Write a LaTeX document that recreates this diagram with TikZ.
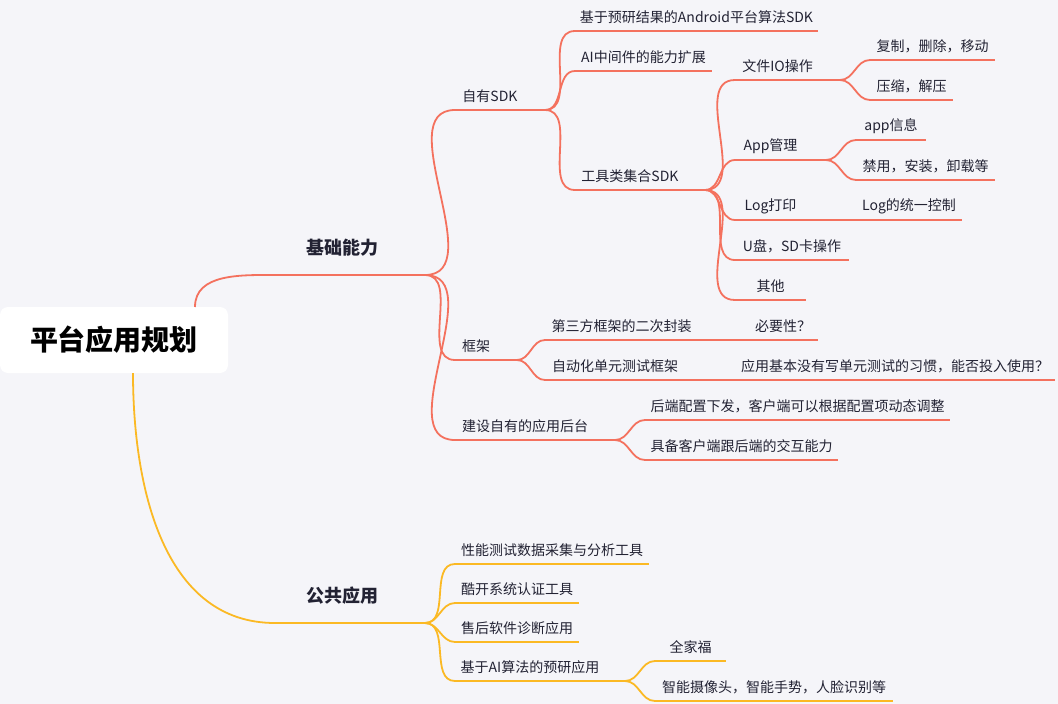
\documentclass[tikz,border=0pt]{standalone}
\usepackage{fontspec}
\setmainfont{Noto Sans CJK SC}
\definecolor{bg}{HTML}{F5F5F9}
\definecolor{rl}{HTML}{F4715E}
\definecolor{yl}{HTML}{FBB924}
\definecolor{tx}{HTML}{222233}
\newcommand\mmtopic[6]{%
  \coordinate (#1-s) at (#2,#4); \coordinate (#1-e) at (#3,#4);
  \node[lbl] (#1) at ({(#2+#3)/2},{#4-14}) {#5};
  \draw[#6,line width=1.8pt] (#1-s) -- (#1-e);}
\newcommand\mmlink[4]{%
  \draw[#3,line width=1.8pt] (#1-e) -- ++(#4,0) to[out=0,in=180] (#2-s);}
\begin{document}
\begin{tikzpicture}[x=1pt,y=-1pt,
  lbl/.style={font=\fontsize{14}{16}\selectfont,text=tx,inner sep=0pt}]
\fill[bg] (0,0) rectangle (1058,704);
\node[fill=white,rounded corners=8pt,minimum width=228pt,minimum height=66pt,inner sep=0pt,
  font=\fontsize{28}{32}\selectfont\bfseries,text=black] (root) at (114,340) {平台应用规划};
% main
\coordinate (A-s) at (275,275); \coordinate (A-e) at (425,275);
\node[lbl,font=\fontsize{18}{20}\selectfont\bfseries] (A) at (342,248) {基础能力};
\draw[rl,line width=1.8pt] (A-s)--(A-e);
\coordinate (B-s) at (275,623); \coordinate (B-e) at (425,623);
\node[lbl,font=\fontsize{18}{20}\selectfont\bfseries] (B) at (342,596) {公共应用};
\draw[yl,line width=1.8pt] (B-s)--(B-e);
\draw[rl,line width=1.8pt] (195,307) to[out=90,in=180] (A-s);
\draw[yl,line width=1.8pt] (133,373) to[out=-90,in=180] (B-s);
% level 2
\mmtopic{sdk}{455}{525}{110}{自有SDK}{rl}
\mmtopic{fw}{455}{497}{360}{框架}{rl}
\mmtopic{bk}{455}{595}{440}{建设自有的应用后台}{rl}
\foreach \c in {sdk,fw,bk} {\mmlink{A}{\c}{rl}{0}}
\mmtopic{sdk1}{575}{818}{31}{基于预研结果的Android平台算法SDK}{rl}
\mmtopic{sdk2}{575}{712}{71}{AI中间件的能力扩展}{rl}
\mmtopic{sdk3}{575}{685}{190}{工具类集合SDK}{rl}
\foreach \c in {sdk1,sdk2,sdk3} {\mmlink{sdk}{\c}{rl}{20}}
\mmtopic{t1}{735}{820}{80}{文件IO操作}{rl}
\mmtopic{t2}{735}{806}{160}{App管理}{rl}
\mmtopic{t3}{735}{806}{220}{Log打印}{rl}
\mmtopic{t4}{735}{849}{260}{U盘，SD卡操作}{rl}
\mmtopic{t5}{735}{806}{300}{其他}{rl}
\foreach \c in {t1,t2,t3,t4,t5} {\mmlink{sdk3}{\c}{rl}{20}}
\mmtopic{f1}{870}{995}{60}{复制，删除，移动}{rl}
\mmtopic{f2}{870}{953}{100}{压缩，解压}{rl}
\foreach \c in {f1,f2} {\mmlink{t1}{\c}{rl}{20}}
\mmtopic{a1}{856}{926}{140}{app信息}{rl}
\mmtopic{a2}{856}{995}{180}{禁用，安装，卸载等}{rl}
\foreach \c in {a1,a2} {\mmlink{t2}{\c}{rl}{20}}
\mmtopic{l1}{856}{962}{220}{Log的统一控制}{rl}
\mmlink{t3}{l1}{rl}{20}
\mmtopic{k1}{545}{698}{340}{第三方框架的二次封装}{rl}
\mmtopic{k2}{545}{685}{380}{自动化单元测试框架}{rl}
\foreach \c in {k1,k2} {\mmlink{fw}{\c}{rl}{20}}
\mmtopic{k11}{748}{818}{340}{必要性？}{rl}
\mmlink{k1}{k11}{rl}{20}
\mmtopic{k21}{735}{1055}{380}{应用基本没有写单元测试的习惯，能否投入使用？}{rl}
\mmlink{k2}{k21}{rl}{20}
\mmtopic{b1}{645}{950}{420}{后端配置下发，客户端可以根据配置项动态调整}{rl}
\mmtopic{b2}{645}{838}{460}{具备客户端跟后端的交互能力}{rl}
\foreach \c in {b1,b2} {\mmlink{bk}{\c}{rl}{20}}
% public
\mmtopic{p1}{455}{649}{564}{性能测试数据采集与分析工具}{yl}
\mmtopic{p2}{455}{579}{603}{酷开系统认证工具}{yl}
\mmtopic{p3}{455}{579}{642}{售后软件诊断应用}{yl}
\mmtopic{p4}{455}{605}{681}{基于AI算法的预研应用}{yl}
\foreach \c in {p1,p2,p3,p4} {\mmlink{B}{\c}{yl}{0}}
\mmtopic{q1}{655}{726}{661}{全家福}{yl}
\mmtopic{q2}{655}{893}{701}{智能摄像头，智能手势，人脸识别等}{yl}
\foreach \c in {q1,q2} {\mmlink{p4}{\c}{yl}{20}}
\end{tikzpicture}
\end{document}
